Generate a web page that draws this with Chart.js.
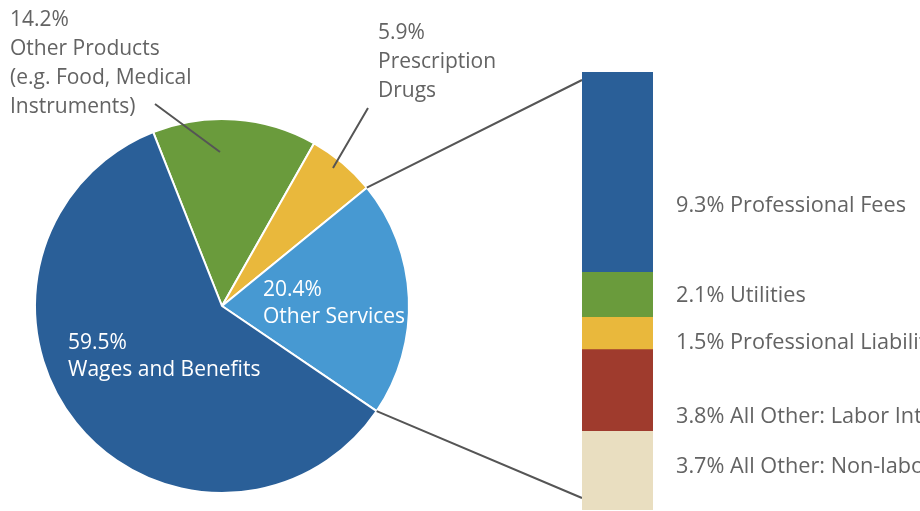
<!DOCTYPE html>
<html>
<head>
<meta charset="utf-8">
<script src="https://cdn.jsdelivr.net/npm/chart.js@4"></script>
<style>
  html, body { margin: 0; padding: 0; background: #fff; }
  .wrap { position: relative; width: 920px; height: 511px; overflow: hidden; }
  .wrap canvas { position: absolute; left: 0; top: 0; }
</style>
</head>
<body>
<div class="wrap">
  <canvas id="pie" width="920" height="511"></canvas>
  <canvas id="bar" width="920" height="511"></canvas>
</div>
<script>
// hospital cost shares, percent
const categories = ["Other Products", "Prescription Drugs", "Other Services", "Wages and Benefits"];
const shares = [14.2, 5.9, 20.4, 59.5];
const pieColors = ["#6a9b3c", "#e9b83c", "#4799d2", "#2a5f98"];

// breakdown of "Other Services"
const serviceParts = ["Professional Fees", "Utilities", "Professional Liability Insurance", "All Other: Labor Intensive", "All Other: Non-labor Intensive"];
const serviceShares = [9.3, 2.1, 1.5, 3.8, 3.7];
const barColors = ["#2a5f98", "#6a9b3c", "#e9b83c", "#9f3b2d", "#e9dec0"];

// label layout
const labelY = [206, 296, 343, 417, 467];
const FONT = '"Open Sans", sans-serif';
const TEXT = "#636363";
const LINE = "#555";

const pct = (v) => v.toFixed(1) + "%";

const pieLabels = {
    id: "pieLabels",
    afterDraw: (chart) => {
        const { ctx } = chart;
        ctx.save();
        ctx.textBaseline = "middle";
        ctx.font = "21px " + FONT;

        // outside labels with leader lines
        ctx.fillStyle = TEXT;
        [pct(shares[0]), "Other Products", "(e.g. Food, Medical", "Instruments)"].forEach((t, i) => {
            ctx.fillText(t, 10, 20 + i * 29);
        });
        [pct(shares[1]), "Prescription", "Drugs"].forEach((t, i) => {
            ctx.fillText(t, 378, 33 + i * 29);
        });
        ctx.strokeStyle = LINE;
        ctx.lineWidth = 2;
        ctx.beginPath();
        ctx.moveTo(155, 104);
        ctx.lineTo(220, 152);
        ctx.moveTo(368, 108);
        ctx.lineTo(333, 168);
        ctx.stroke();

        // inside labels
        ctx.fillStyle = "#fff";
        ctx.fillText(pct(shares[2]), 263, 290);
        ctx.fillText(categories[2], 263, 317);
        ctx.fillText(pct(shares[3]), 68, 343);
        ctx.fillText(categories[3], 68, 370);
        ctx.restore();
    },
};

const pieChart = new Chart(document.getElementById("pie"), {
    type: "pie",
    data: {
        labels: categories,
        datasets: [
            {
                data: shares,
                backgroundColor: pieColors,
                borderColor: "#fff",
                borderWidth: 2,
            },
        ],
    },
    options: {
        responsive: false,
        animation: false,
        rotation: -21.6,
        layout: { padding: { left: 34, right: 510, top: 118, bottom: 17 } },
        plugins: {
            legend: { display: false },
            tooltip: { enabled: false },
        },
    },
    plugins: [pieLabels],
});

const barLabels = {
    id: "barLabels",
    beforeDatasetsDraw: (chart) => {
        // connector lines from the Other Services slice to the bar
        const { ctx, chartArea } = chart;
        const arc = pieChart.getDatasetMeta(0).data[2];
        const { x, y, startAngle, endAngle, outerRadius } = arc.getProps(["x", "y", "startAngle", "endAngle", "outerRadius"], true);
        ctx.save();
        ctx.strokeStyle = LINE;
        ctx.lineWidth = 2;
        ctx.beginPath();
        ctx.moveTo(x + Math.cos(startAngle) * outerRadius, y + Math.sin(startAngle) * outerRadius);
        ctx.lineTo(chartArea.left, chartArea.top + 8);
        ctx.moveTo(x + Math.cos(endAngle) * outerRadius, y + Math.sin(endAngle) * outerRadius);
        ctx.lineTo(chartArea.left, chartArea.bottom - 12);
        ctx.stroke();
        ctx.restore();
    },
    afterDraw: (chart) => {
        const { ctx } = chart;
        ctx.save();
        ctx.font = "21.7px " + FONT;
        ctx.fillStyle = TEXT;
        ctx.textBaseline = "middle";
        serviceParts.forEach((name, i) => {
            ctx.fillText(pct(serviceShares[i]) + " " + name, 676, labelY[i]);
        });
        ctx.restore();
    },
};

new Chart(document.getElementById("bar"), {
    type: "bar",
    data: {
        labels: [categories[2]],
        datasets: serviceParts.map((name, i) => ({
            label: name,
            data: [serviceShares[i]],
            backgroundColor: barColors[i],
            borderWidth: 0,
            barPercentage: 1,
            categoryPercentage: 1,
        })),
    },
    options: {
        responsive: false,
        animation: false,
        layout: { padding: { left: 582, right: 267, top: 72, bottom: 1 } },
        scales: {
            x: { stacked: true, display: false },
            y: {
                stacked: true,
                display: false,
                reverse: true,
                min: 0,
                max: serviceShares.reduce((a, b) => a + b, 0),
            },
        },
        plugins: {
            legend: { display: false },
            tooltip: { enabled: false },
        },
    },
    plugins: [barLabels],
});
</script>
</body>
</html>
